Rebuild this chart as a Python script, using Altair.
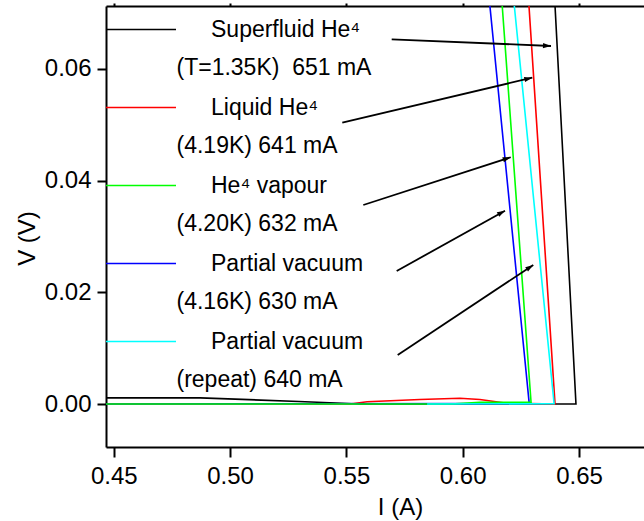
import math
import altair as alt
import pandas as pd

# ---------------- data ----------------
X_DOMAIN = [0.44665, 0.67795]
Y_DOMAIN = [-0.0077, 0.07128]
x_ticks = [0.45, 0.50, 0.55, 0.60, 0.65]
y_ticks = [0.00, 0.02, 0.04, 0.06]

keys = ["black", "red", "green", "blue", "cyan"]
colors = ["#000000", "#ff0000", "#00ff00", "#0000ff", "#00ffff"]
INDENT = "\u200b\u2003\u2002"
series_labels = [
    INDENT + "Superfluid He\u2074|(T=1.35K)\u00a0 651 mA",
    INDENT + "Liquid He\u2074|(4.19K) 641 mA",
    INDENT + "He\u2074 vapour|(4.20K) 632 mA",
    INDENT + "Partial vacuum|(4.16K) 630 mA",
    INDENT + "Partial vacuum|(repeat) 640 mA",
]
draw_order = ["black", "red", "blue", "green", "cyan"]

black_I = [0.44665, 0.4871, 0.5296, 0.5559, 0.6487, 0.6397]
black_V = [0.0011, 0.0011, 0.00045, 0.0, 0.0, 0.07128]

red_I = [0.44665, 0.5515, 0.5589, 0.5816, 0.5988, 0.6074, 0.6182, 0.6289, 0.6397, 0.6285]
red_V = [0.0, 0.0, 0.0004, 0.0008, 0.00102, 0.0008, 0.00018, 0.0001, 0.0, 0.07128]

green_I = [0.44665, 0.595, 0.6074, 0.6294, 0.6170]
green_V = [0.0, 0.0, 0.0003, 0.0003, 0.07128]

blue_I = [0.44665, 0.6286, 0.6117]
blue_V = [0.0, 0.0001, 0.07128]

cyan_I = [0.5847, 0.6393, 0.6222]
cyan_V = [0.0, 0.00005, 0.07128]

arrow_xs = [0.56948, 0.54824, 0.55727, 0.57163, 0.57206]
arrow_ys = [0.06532, 0.05038, 0.03564, 0.02382, 0.00878]
arrow_xe = [0.63796, 0.62992, 0.62064, 0.61819, 0.63035]
arrow_ye = [0.06412, 0.05844, 0.04419, 0.03462, 0.02490]

# ---------------- layout ----------------
PLOT_W, PLOT_H = 538, 441
FONT = "Liberation Sans"

curves = {
    "black": (black_I, black_V),
    "red": (red_I, red_V),
    "green": (green_I, green_V),
    "blue": (blue_I, blue_V),
    "cyan": (cyan_I, cyan_V),
}
rows = []
for k, lab in zip(keys, series_labels):
    I, V = curves[k]
    for i, (a, b) in enumerate(zip(I, V)):
        rows.append({"key": k, "label": lab, "idx": i, "I": a, "V": b})
df = pd.DataFrame(rows)

kx = PLOT_W / (X_DOMAIN[1] - X_DOMAIN[0])
ky = PLOT_H / (Y_DOMAIN[1] - Y_DOMAIN[0])
angles = []
for xs, ys, xe, ye in zip(arrow_xs, arrow_ys, arrow_xe, arrow_ye):
    ang = math.degrees(math.atan2(-(ye - ys) * ky, (xe - xs) * kx)) % 360
    angles.append(ang)
arrow_df = pd.DataFrame({"xs": arrow_xs, "ys": arrow_ys, "xe": arrow_xe, "ye": arrow_ye, "ang": angles})

xscale = alt.Scale(domain=X_DOMAIN, nice=False, zero=False)
yscale = alt.Scale(domain=Y_DOMAIN, nice=False, zero=False)

xaxis = alt.Axis(orient="bottom", values=x_ticks, format=".2f", title="I (A)",
                 titleX=294, titleY=67, titleBaseline="alphabetic",
                 tickSize=10, labelPadding=7, labelBaseline="top")
yaxis = alt.Axis(orient="left", values=y_ticks, format=".2f", title="V (V)",
                 titleX=-72, titleY=232, titleBaseline="alphabetic",
                 labelPadding=6, labelBaseline="middle")
top_axis = alt.Axis(orient="top", values=x_ticks, labels=False, title=None, tickSize=3)

legend = alt.Legend(
    orient="none", legendX=0, legendY=5, title=None, direction="vertical",
    symbolType="M-2,0H2", symbolSize=1225, symbolStrokeWidth=1.6, symbolOffset=16.5,
    labelFont=FONT, labelFontSize=23, labelColor="black",
    labelExpr="split(datum.label, '|')", labelLimit=600, labelOffset=17,
    rowPadding=9, padding=0, labelBaseline="middle",
)
color = alt.Color("label:N", scale=alt.Scale(domain=series_labels, range=colors),
                  legend=legend)

layers = []
for n, k in enumerate(draw_order):
    first = n == 0
    layers.append(
        alt.Chart(df)
        .transform_filter(alt.datum.key == k)
        .mark_line(strokeWidth=1.6, clip=True)
        .encode(
            x=alt.X("I:Q", scale=xscale, axis=xaxis if first else None),
            y=alt.Y("V:Q", scale=yscale, axis=yaxis),
            color=color,
            order=alt.Order("idx:Q"),
        )
    )

arrows = alt.Chart(arrow_df).mark_rule(color="black", strokeWidth=1.8).encode(
    x=alt.X("xs:Q", scale=xscale, axis=top_axis),
    y=alt.Y("ys:Q", scale=yscale, axis=yaxis),
    x2="xe:Q",
    y2="ye:Q",
)
heads = alt.Chart(arrow_df).mark_point(
    shape="M0,0L-2,-0.65L-2,0.65Z", filled=True, color="black", size=64, opacity=1
).encode(
    x=alt.X("xe:Q", scale=xscale, axis=None),
    y=alt.Y("ye:Q", scale=yscale, axis=yaxis),
    angle=alt.Angle("ang:Q", scale=None),
)

chart = (
    alt.layer(*layers, arrows, heads)
    .properties(
        width=PLOT_W,
        height=PLOT_H,
        autosize=alt.AutoSizeParams(type="none"),
        padding={"left": 106, "top": 6, "right": 0, "bottom": 74},
        background="white",
    )
    .configure(style={"guide-label": {"lineHeight": 38.5}})
    .configure_view(stroke=None)
    .configure_axis(
        grid=False, domainColor="black", domainWidth=2, tickColor="black",
        tickWidth=2, tickSize=9, labelFont=FONT, labelFontSize=24, labelColor="black",
        titleFont=FONT, titleFontSize=24, titleFontWeight="normal", titleColor="black",
    )
)

chart.save("out.html", embed_options={"renderer": "svg", "actions": False})
